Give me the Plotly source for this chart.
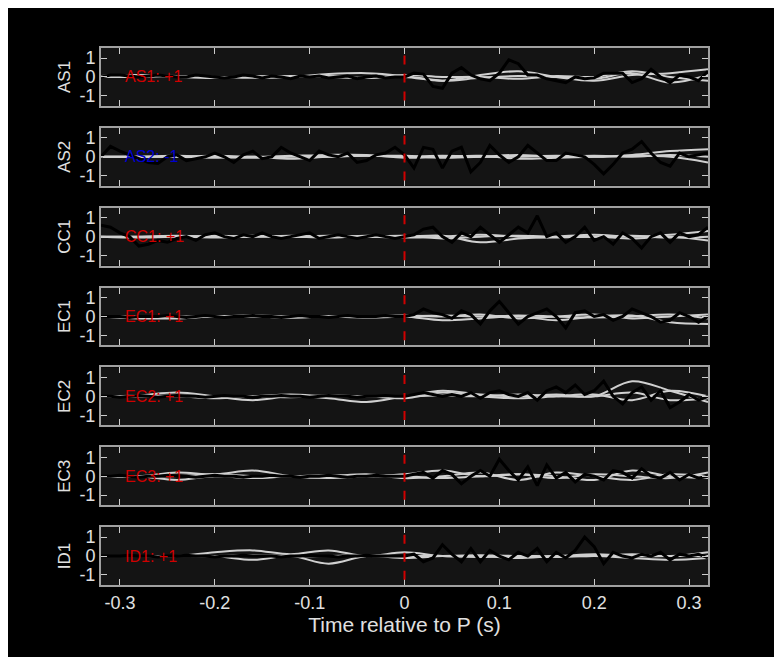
import numpy as np
import plotly.graph_objects as go
from plotly.subplots import make_subplots

stations = ["AS1", "AS2", "CC1", "EC1", "EC2", "EC3", "ID1"]
polarity = ["+1", "-1", "+1", "+1", "+1", "+1", "+1"]
label_colors = ["#d00000", "#0000d0", "#d00000", "#d00000", "#d00000", "#d00000", "#d00000"]

t_obs = [round(-0.32 + 0.01 * i, 2) for i in range(65)]
t_syn = [round(-0.32 + 0.04 * i, 2) for i in range(17)]

obs = {
 "AS1": [0.0,0.1,0.1,0.05,0.0,0.05,0.1,0.05,0.0,0.0,0.1,0.05,0.0,-0.05,0.0,0.1,0.05,-0.05,0.05,0.0,-0.1,0.05,0.0,0.05,-0.05,0.0,0.05,-0.1,0.0,0.05,-0.05,0.0,
         0.0,0.2,0.15,-0.5,-0.6,0.2,0.5,0.1,-0.1,-0.2,0.2,0.9,0.7,0.1,0.1,-0.1,-0.2,-0.3,0.0,-0.1,-0.05,0.2,0.2,0.2,-0.3,-0.1,0.4,0.0,-0.3,0.1,0.0,-0.2,0.3],
 "AS2": [0.0,0.55,0.3,0.1,-0.1,-0.3,-0.35,0.0,0.1,-0.2,-0.1,0.0,0.2,0.0,-0.3,0.1,0.3,-0.1,0.0,0.5,0.2,0.0,-0.2,0.3,0.1,0.0,0.2,-0.3,-0.2,0.1,0.2,0.5,
         0.1,-0.6,0.5,0.4,-0.6,0.3,0.5,-0.8,-0.3,0.6,0.1,-0.3,0.0,0.6,0.2,-0.2,-0.2,0.2,0.1,0.0,-0.4,-0.9,-0.4,0.2,0.4,0.8,0.2,-0.3,-0.5,0.2,0.0,0.1,0.2],
 "CC1": [0.6,0.5,0.2,0.0,-0.5,-0.4,-0.2,-0.3,-0.1,0.0,-0.2,0.1,0.2,0.0,-0.1,0.1,0.0,0.2,0.0,-0.1,0.0,0.1,0.2,-0.1,0.0,0.1,0.0,-0.1,0.0,0.1,0.0,-0.1,
         0.0,0.1,0.4,0.5,0.0,-0.3,0.2,0.0,0.5,0.1,-0.3,0.1,0.5,0.2,1.1,0.0,0.2,-0.3,0.0,0.5,-0.2,0.0,-0.4,0.2,-0.1,-0.6,0.0,0.2,-0.3,0.2,0.0,0.1,0.5],
 "EC1": [0.0,0.0,0.0,-0.05,0.0,0.0,0.0,0.05,0.0,-0.05,0.0,0.05,0.0,-0.05,0.0,0.0,0.05,0.0,0.0,-0.05,0.0,0.05,0.0,0.0,-0.05,0.0,0.05,0.0,0.0,0.0,0.05,0.0,
         0.0,0.1,0.4,0.2,0.1,-0.1,0.3,0.1,-0.4,0.3,0.8,0.2,-0.4,0.0,0.2,0.4,0.0,-0.6,0.2,0.3,0.0,0.1,-0.2,0.0,0.4,0.2,0.0,-0.3,-0.2,0.2,0.0,-0.3,0.0],
 "EC2": [0.0,0.0,-0.05,0.0,0.05,0.0,-0.05,0.0,0.05,0.0,0.0,-0.05,0.0,0.05,0.0,0.0,-0.05,0.0,0.0,0.05,0.0,0.0,-0.05,0.0,0.05,0.0,0.0,-0.05,0.0,0.0,0.05,0.0,
         0.0,0.1,0.2,0.1,0.0,0.1,0.0,0.2,-0.1,0.2,0.3,0.1,0.0,0.2,-0.2,0.3,0.5,0.2,0.6,0.1,0.3,0.8,0.0,-0.4,0.2,0.5,-0.2,0.3,-0.6,-0.3,0.1,-0.2,0.0],
 "EC3": [0.0,0.0,0.05,0.0,-0.05,0.0,0.0,0.05,0.0,0.0,-0.05,0.0,0.05,0.0,0.0,-0.05,0.0,0.0,0.05,0.0,0.0,-0.05,0.0,0.0,0.05,0.0,-0.05,0.0,0.0,0.05,0.0,0.0,
         0.0,0.1,0.2,-0.1,0.3,0.1,-0.4,0.0,0.3,0.0,0.9,0.3,-0.2,0.5,-0.5,0.6,-0.1,0.2,-0.3,0.1,0.0,-0.2,0.3,0.2,-0.1,0.4,0.0,-0.1,0.2,-0.2,0.1,-0.1,0.0],
 "ID1": [0.0,0.0,0.0,0.05,0.0,0.0,-0.05,0.0,0.0,0.05,0.0,0.0,-0.05,0.0,0.0,0.05,0.0,0.0,0.0,-0.05,0.0,0.0,0.05,0.0,0.0,-0.05,0.0,0.0,0.05,0.0,0.0,0.0,
         0.0,0.1,-0.3,-0.1,0.6,0.1,-0.3,0.4,-0.3,0.3,0.0,-0.2,0.2,0.0,0.4,-0.3,0.2,-0.1,0.3,1.0,0.5,-0.4,0.2,0.0,-0.1,0.1,0.0,0.2,-0.2,0.1,0.0,0.1,-0.1],
}

syn = {
 "AS1": [[0.05,0.1,0.0,-0.05,0.05,0.0,0.05,-0.05,0.0,-0.2,0.1,0.3,0.0,-0.2,0.1,0.2,0.4],
         [0.0,0.05,0.05,0.0,-0.05,0.0,0.15,0.2,0.05,-0.2,-0.05,0.05,0.0,-0.1,0.2,-0.3,0.1],
         [0.0,0.0,0.05,0.0,0.0,0.05,0.0,-0.05,0.1,0.0,0.0,-0.1,0.05,0.0,0.3,0.0,-0.2]],
 "AS2": [[0.0,0.0,0.05,0.0,-0.05,0.0,0.0,0.05,0.0,0.05,0.0,0.0,0.05,0.0,0.1,0.3,0.4],
         [0.0,0.0,0.0,0.05,0.0,0.05,0.1,0.1,-0.05,0.0,0.05,-0.1,-0.05,0.0,0.05,0.0,-0.3],
         [0.0,0.0,0.0,-0.05,0.0,-0.1,0.0,0.05,0.05,-0.05,0.0,0.1,0.0,0.05,0.0,0.1,0.0]],
 "CC1": [[0.0,-0.05,0.0,0.05,0.0,0.0,-0.05,0.05,0.0,0.05,-0.3,-0.1,0.0,0.1,0.0,0.1,0.3],
         [0.0,0.0,0.05,0.0,0.05,0.0,0.05,0.0,-0.05,0.0,0.1,0.0,-0.05,0.0,-0.1,0.0,-0.2],
         [0.0,0.0,0.0,-0.05,0.0,0.05,0.0,0.0,0.05,-0.1,0.0,0.05,0.0,0.0,0.05,-0.05,0.0]],
 "EC1": [[0.0,0.0,-0.05,0.0,0.0,-0.05,0.0,0.0,0.0,-0.2,-0.1,0.0,-0.2,0.0,0.05,-0.3,-0.4],
         [0.0,-0.1,-0.1,0.0,0.0,-0.05,0.0,0.0,0.05,0.0,0.1,-0.1,0.0,0.1,-0.1,0.0,0.1],
         [0.0,0.0,0.0,0.0,0.05,0.0,0.0,-0.05,0.0,0.05,0.0,0.05,0.0,-0.05,0.0,0.1,-0.1]],
 "EC2": [[0.0,0.05,0.2,0.0,-0.2,0.0,-0.1,-0.3,0.0,0.3,0.1,0.0,0.1,0.0,0.8,0.3,-0.3],
         [0.0,0.0,0.0,-0.1,0.0,0.1,0.0,0.0,-0.1,0.2,0.0,-0.1,0.0,0.1,-0.2,0.3,0.0],
         [0.0,0.0,0.05,0.0,0.0,-0.05,0.05,0.0,0.0,0.05,0.0,0.1,0.0,0.0,0.2,-0.2,-0.1]],
 "EC3": [[0.0,0.0,0.2,0.1,0.3,0.0,-0.1,0.0,0.1,0.3,0.0,0.1,0.0,-0.2,0.3,0.0,-0.1],
         [0.0,0.0,-0.2,0.0,-0.1,0.0,0.0,0.1,-0.1,0.0,0.2,-0.2,0.2,0.0,-0.2,0.1,0.0],
         [0.0,0.0,0.0,0.1,0.0,0.0,0.05,0.0,0.0,-0.1,0.0,0.1,-0.1,0.1,0.0,-0.1,0.2]],
 "ID1": [[0.0,0.0,0.0,0.2,0.3,0.1,0.3,0.0,0.2,0.0,0.0,-0.1,0.0,0.0,0.1,0.0,0.2],
         [0.0,0.0,0.0,0.0,-0.2,0.0,-0.4,0.0,-0.1,0.0,0.05,0.0,-0.05,0.0,-0.1,-0.2,-0.1],
         [0.0,0.0,0.0,0.0,0.05,0.0,0.0,0.05,0.0,0.0,-0.05,0.0,0.0,0.1,0.0,0.0,0.0]],
}

x_ticks = [-0.3, -0.2, -0.1, 0, 0.1, 0.2, 0.3]
x_ticktext = ["-0.3", "-0.2", "-0.1", "0", "0.1", "0.2", "0.3"]
y_ticks = [-1, 0, 1]
y_ticktext = ["-1", "0", "1"]

fig = make_subplots(rows=7, cols=1, shared_xaxes=True, vertical_spacing=0.041)
font = "Liberation Sans, Arial, sans-serif"
txt = "#e0e0e0"
for i, s in enumerate(stations):
    r = i + 1
    for k, ys in enumerate(syn[s]):
        fig.add_trace(go.Scatter(x=t_syn, y=ys, mode="lines", line=dict(color="#d0d0d0", width=2, shape="spline"),
                                 showlegend=False, hoverinfo="skip"), row=r, col=1)
    fig.add_trace(go.Scatter(x=t_obs, y=obs[s], mode="lines", line=dict(color="#000000", width=3),
                             showlegend=False), row=r, col=1)
    fig.add_shape(type="line", x0=0, x1=0, y0=-1.25, y1=1.25, line=dict(color="#d00000", width=2, dash="dash"),
                  row=r, col=1)
    fig.add_annotation(x=-0.297, y=0, text=f"{s}: {polarity[i]}", showarrow=False, xanchor="left",
                       font=dict(color=label_colors[i], size=16, family=font), row=r, col=1)
    fig.update_yaxes(range=[-1.53, 1.53], tickvals=y_ticks, ticktext=y_ticktext, ticks="inside", ticklen=6,
                     tickcolor="#cccccc", showline=True, linecolor="#a0a0a0", linewidth=2, mirror="ticks",
                     showgrid=False, zeroline=False, title=dict(text=s, standoff=4, font=dict(size=17, color=txt)),
                     tickfont=dict(size=18, color=txt), row=r, col=1)
    fig.update_xaxes(range=[-0.32, 0.32], tickvals=x_ticks, ticktext=x_ticktext, ticks="inside", ticklen=6,
                     tickcolor="#cccccc", showline=True, linecolor="#a0a0a0", linewidth=2, mirror="ticks",
                     showgrid=False, zeroline=False, showticklabels=(r == 7), tickfont=dict(size=18, color=txt),
                     row=r, col=1)
fig.update_xaxes(title=dict(text="Time relative to P (s)", font=dict(size=21, color=txt), standoff=2), row=7, col=1)
fig.update_layout(width=782, height=657, paper_bgcolor="black", plot_bgcolor="#141414",
                  margin=dict(l=93, r=82, t=40, b=80), font=dict(family=font, color=txt))
fig.write_html("out.html")
